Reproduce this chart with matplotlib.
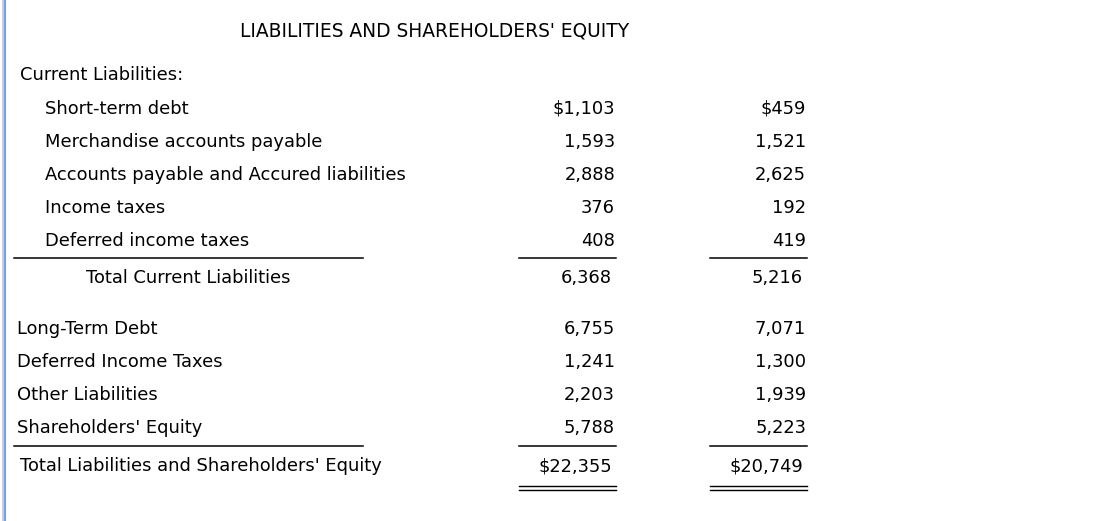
import matplotlib.pyplot as plt

plt.rcParams['font.family'] = 'DejaVu Sans'

title = "LIABILITIES AND SHAREHOLDERS' EQUITY"
section_label = "Current Liabilities:"

current_items = ["Short-term debt", "Merchandise accounts payable",
                 "Accounts payable and Accured liabilities", "Income taxes",
                 "Deferred income taxes"]
current_y1 = ["$1,103", "1,593", "2,888", "376", "408"]
current_y2 = ["$459", "1,521", "2,625", "192", "419"]

total_current_label = "Total Current Liabilities"
total_current = ["6,368", "5,216"]

other_items = ["Long-Term Debt", "Deferred Income Taxes", "Other Liabilities",
               "Shareholders' Equity"]
other_y1 = ["6,755", "1,241", "2,203", "5,788"]
other_y2 = ["7,071", "1,300", "1,939", "5,223"]

grand_total_label = "Total Liabilities and Shareholders' Equity"
grand_total = ["$22,355", "$20,749"]

W, H = 1114, 521
fig = plt.figure(figsize=(W / 100, H / 100), dpi=100)
ax = fig.add_axes([0, 0, 1, 1])
ax.set_xlim(0, W)
ax.set_ylim(H, 0)
ax.axis('off')

fs = 12.9
col1_x, col2_x = 615, 806
dy = 1  # small nudge so text sits like the reference

# left frame edge
ax.plot([2.5, 2.5], [0, H], color='#cfcfcf', lw=1.5)
ax.plot([4.5, 4.5], [0, H], color='#6f9ff0', lw=1.5)

ax.text(435, 30 + dy, title, fontsize=13.4, ha='center', va='center')
ax.text(20, 74 + dy, section_label, fontsize=fs, va='center')

for i, (lab, a, b) in enumerate(zip(current_items, current_y1, current_y2)):
    y = 108 + i * 33 + dy
    ax.text(45, y, lab, fontsize=fs, va='center')
    ax.text(col1_x, y, a, fontsize=fs, va='center', ha='right')
    ax.text(col2_x, y, b, fontsize=fs, va='center', ha='right')

def rule(y):
    ax.plot([14, 363], [y, y], color='black', lw=1.1)
    ax.plot([519, 616], [y, y], color='black', lw=1.1)
    ax.plot([710, 807], [y, y], color='black', lw=1.1)

rule(257.5)
ax.text(86, 277 + dy, total_current_label, fontsize=fs, va='center')
ax.text(col1_x - 3, 277 + dy, total_current[0], fontsize=fs, va='center', ha='right')
ax.text(col2_x - 3, 277 + dy, total_current[1], fontsize=fs, va='center', ha='right')

for i, (lab, a, b) in enumerate(zip(other_items, other_y1, other_y2)):
    y = 328 + i * 33 + dy
    ax.text(17, y, lab, fontsize=fs, va='center')
    ax.text(col1_x, y, a, fontsize=fs, va='center', ha='right')
    ax.text(col2_x, y, b, fontsize=fs, va='center', ha='right')

rule(445.5)
ax.text(20, 465 + dy, grand_total_label, fontsize=fs, va='center')
ax.text(col1_x - 3, 465 + dy, grand_total[0], fontsize=fs, va='center', ha='right')
ax.text(col2_x - 3, 465 + dy, grand_total[1], fontsize=fs, va='center', ha='right')

for y in (485.5, 489.5):
    ax.plot([519, 616], [y, y], color='black', lw=1.0)
    ax.plot([710, 807], [y, y], color='black', lw=1.0)

fig.savefig('out.png', dpi=100)
